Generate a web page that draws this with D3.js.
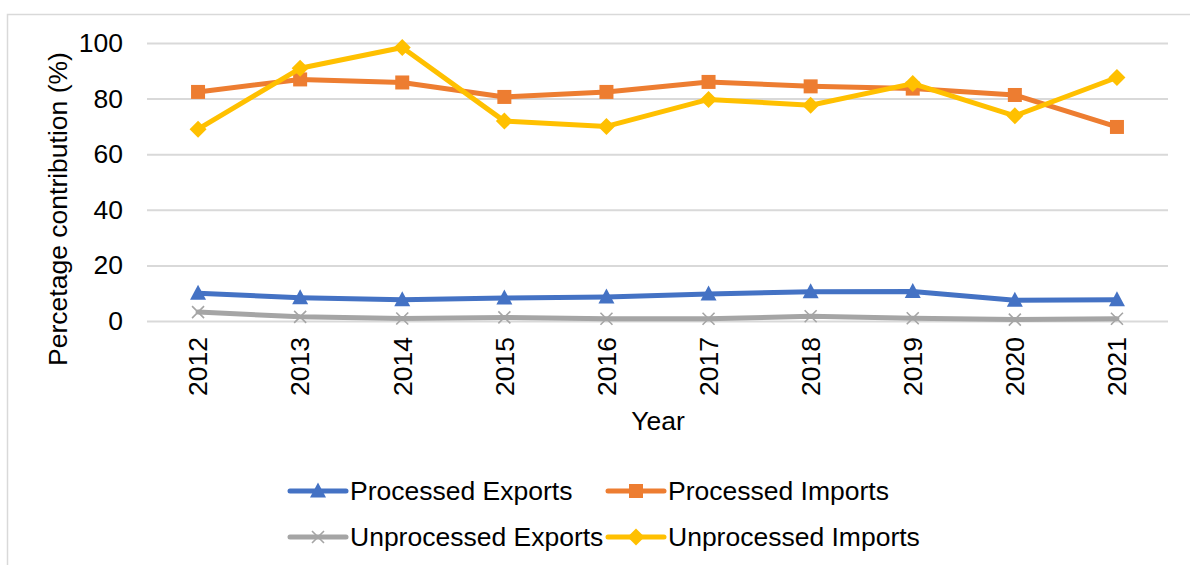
<!DOCTYPE html>
<html>
<head>
<meta charset="utf-8">
<script src="https://cdn.jsdelivr.net/npm/d3@7"></script>
<style>
  html, body { margin: 0; padding: 0; background: #fff; }
  svg { display: block; font-family: "Liberation Sans", Arial, sans-serif; }
</style>
</head>
<body>
<svg id="chart" width="1190" height="565"></svg>
<script>
// Share of trade (%) by year
const years = ["2012","2013","2014","2015","2016","2017","2018","2019","2020","2021"];
const processedExports   = [10.0, 8.4, 7.6, 8.3, 8.6, 9.7, 10.5, 10.6, 7.5, 7.6];
const processedImports   = [82.4, 86.9, 85.8, 80.6, 82.4, 86.0, 84.4, 83.6, 81.3, 69.8];
const unprocessedExports = [3.2, 1.5, 0.9, 1.3, 0.8, 0.8, 1.7, 1.0, 0.5, 0.8];
const unprocessedImports = [69.0, 90.9, 98.4, 71.9, 70.0, 79.7, 77.6, 85.4, 73.8, 87.6];
const yTicks = [0, 20, 40, 60, 80, 100];

const series = [
  { name: "Processed Exports",   values: processedExports,   color: "#4472C4", marker: "triangle" },
  { name: "Processed Imports",   values: processedImports,   color: "#ED7D31", marker: "square" },
  { name: "Unprocessed Exports", values: unprocessedExports, color: "#A5A5A5", marker: "cross" },
  { name: "Unprocessed Imports", values: unprocessedImports, color: "#FFC000", marker: "diamond" }
];

const FONT = "26.5px";
const svg = d3.select("#chart");
const plot = { left: 147, right: 1168, top: 43, bottom: 321 };

// outer chart frame
svg.append("rect")
  .attr("x", 7.5).attr("y", 14.5)
  .attr("width", 1300).attr("height", 700)
  .attr("fill", "none").attr("stroke", "#D9D9D9").attr("stroke-width", 1.5);

const x = d3.scaleBand().domain(years).range([plot.left, plot.right]);
const y = d3.scaleLinear().domain([0, 100]).range([plot.bottom, plot.top]);
const cx = d => x(d) + x.bandwidth() / 2;

// horizontal gridlines + y tick labels
const yAxis = d3.axisLeft(y).tickValues(yTicks).tickSize(-(plot.right - plot.left)).tickPadding(24);
const gy = svg.append("g").attr("transform", `translate(${plot.left},0)`).call(yAxis);
gy.select(".domain").remove();
gy.selectAll(".tick line").attr("stroke", "#D9D9D9").attr("stroke-width", 2);
gy.selectAll(".tick text")
  .attr("fill", "#000").style("font-size", FONT)
  .attr("font-family", "Liberation Sans, Arial, sans-serif");

// category axis with rotated year labels
const xAxis = d3.axisBottom(x).tickSize(0).tickPadding(0);
const gx = svg.append("g").attr("transform", `translate(0,${plot.bottom})`).call(xAxis);
gx.select(".domain").remove();
gx.selectAll(".tick text")
  .attr("fill", "#000").style("font-size", FONT)
  .attr("font-family", "Liberation Sans, Arial, sans-serif")
  .attr("transform", "rotate(-90)")
  .attr("text-anchor", "end")
  .attr("x", -16).attr("y", 0).attr("dy", "0.35em");

// axis titles
svg.append("text")
  .attr("x", 658).attr("y", 430)
  .attr("text-anchor", "middle")
  .style("font-size", FONT).text("Year");

svg.append("text")
  .attr("transform", "translate(67,209) rotate(-90)")
  .attr("text-anchor", "middle")
  .style("font-size", FONT).text("Percetage contribution (%)");

// marker shapes
function drawMarker(g, type, color) {
  if (type === "triangle") {
    g.append("path").attr("d", "M0,-8.5 L8,6.5 L-8,6.5 Z").attr("fill", color);
  } else if (type === "square") {
    g.append("rect").attr("x", -7).attr("y", -7).attr("width", 14).attr("height", 14).attr("fill", color);
  } else if (type === "diamond") {
    g.append("path").attr("d", "M0,-8.5 L8.5,0 L0,8.5 L-8.5,0 Z").attr("fill", color);
  } else if (type === "cross") {
    g.append("path").attr("d", "M-6,-6 L6,6 M-6,6 L6,-6")
      .attr("stroke", color).attr("stroke-width", 1.6).attr("fill", "none");
  }
}

const line = d3.line().x(d => cx(d.year)).y(d => y(d.value));

series.forEach(s => {
  const pts = years.map((yr, i) => ({ year: yr, value: s.values[i] }));
  const g = svg.append("g");
  g.append("path").datum(pts)
    .attr("d", line)
    .attr("fill", "none")
    .attr("stroke", s.color)
    .attr("stroke-width", 5)
    .attr("stroke-linejoin", "round")
    .attr("stroke-linecap", "round");
  pts.forEach(p => {
    const m = g.append("g").attr("transform", `translate(${cx(p.year)},${y(p.value)})`);
    drawMarker(m, s.marker, s.color);
  });
});

// legend
const legendPos = [
  { x: 290, y: 491 }, { x: 608, y: 491 },
  { x: 290, y: 537 }, { x: 608, y: 537 }
];
series.forEach((s, i) => {
  const p = legendPos[i];
  const g = svg.append("g").attr("transform", `translate(${p.x},${p.y})`);
  g.append("line").attr("x1", 0).attr("x2", 56).attr("y1", 0).attr("y2", 0)
    .attr("stroke", s.color).attr("stroke-width", 5).attr("stroke-linecap", "round");
  const m = g.append("g").attr("transform", "translate(28,0)");
  drawMarker(m, s.marker, s.color);
  g.append("text").attr("x", 60).attr("y", 0).attr("dy", "0.35em")
    .style("font-size", FONT).text(s.name);
});
</script>
</body>
</html>
